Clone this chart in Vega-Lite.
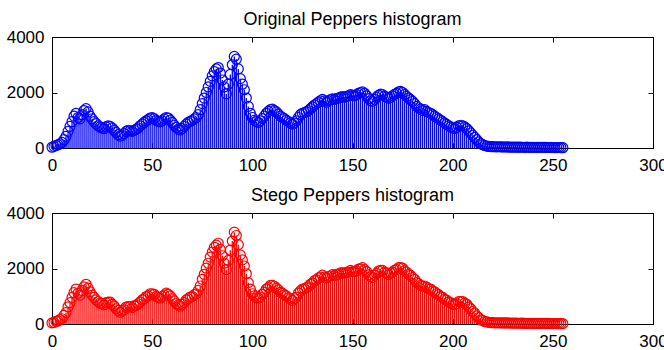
{
"$schema": "https://vega.github.io/schema/vega-lite/v6.json",
"padding": {"left": 5, "top": 10, "right": 0, "bottom": 5},
"background": "white",
"config": {
  "font": "Liberation Sans",
  "view": {"stroke": "black", "strokeWidth": 1},
  "axis": {"grid": false, "labelColor": "black", "labelFontSize": 17, "labelFont": "Liberation Sans", "tickColor": "black", "domainColor": "black", "tickSize": -5, "title": null, "labelFlush": false, "labelOverlap": false, "format": "d"},
  "title": {"font": "Liberation Sans", "fontSize": 18, "fontWeight": "normal", "color": "black", "anchor": "middle", "baseline": "alphabetic", "offset": -1}
},
"spacing": 12,
"data": {"values": [
{"x":0,"orig":30,"stego":40},{"x":1,"orig":60,"stego":55},{"x":2,"orig":90,"stego":100},{"x":3,"orig":120,"stego":110},{"x":4,"orig":150,"stego":160},{"x":5,"orig":200,"stego":190},{"x":6,"orig":300,"stego":310},{"x":7,"orig":420,"stego":410},{"x":8,"orig":600,"stego":620},{"x":9,"orig":780,"stego":770},
{"x":10,"orig":950,"stego":960},{"x":11,"orig":1150,"stego":1130},{"x":12,"orig":1250,"stego":1260},{"x":13,"orig":1100,"stego":1110},{"x":14,"orig":1050,"stego":1040},{"x":15,"orig":1200,"stego":1210},{"x":16,"orig":1350,"stego":1340},{"x":17,"orig":1420,"stego":1430},{"x":18,"orig":1300,"stego":1290},{"x":19,"orig":1150,"stego":1160},
{"x":20,"orig":1050,"stego":1040},{"x":21,"orig":950,"stego":960},{"x":22,"orig":880,"stego":870},{"x":23,"orig":800,"stego":810},{"x":24,"orig":760,"stego":750},{"x":25,"orig":720,"stego":730},{"x":26,"orig":700,"stego":690},{"x":27,"orig":760,"stego":770},{"x":28,"orig":800,"stego":790},{"x":29,"orig":780,"stego":790},
{"x":30,"orig":720,"stego":710},{"x":31,"orig":640,"stego":650},{"x":32,"orig":560,"stego":550},{"x":33,"orig":480,"stego":490},{"x":34,"orig":430,"stego":420},{"x":35,"orig":460,"stego":470},{"x":36,"orig":520,"stego":510},{"x":37,"orig":600,"stego":610},{"x":38,"orig":640,"stego":630},{"x":39,"orig":620,"stego":630},
{"x":40,"orig":600,"stego":590},{"x":41,"orig":640,"stego":650},{"x":42,"orig":680,"stego":670},{"x":43,"orig":720,"stego":730},{"x":44,"orig":800,"stego":790},{"x":45,"orig":860,"stego":870},{"x":46,"orig":920,"stego":910},{"x":47,"orig":980,"stego":990},{"x":48,"orig":1020,"stego":1010},{"x":49,"orig":1080,"stego":1090},
{"x":50,"orig":1100,"stego":1090},{"x":51,"orig":1060,"stego":1070},{"x":52,"orig":1000,"stego":990},{"x":53,"orig":960,"stego":970},{"x":54,"orig":940,"stego":930},{"x":55,"orig":980,"stego":990},{"x":56,"orig":1050,"stego":1040},{"x":57,"orig":1100,"stego":1110},{"x":58,"orig":1080,"stego":1070},{"x":59,"orig":1000,"stego":1010},
{"x":60,"orig":920,"stego":910},{"x":61,"orig":820,"stego":830},{"x":62,"orig":740,"stego":730},{"x":63,"orig":680,"stego":690},{"x":64,"orig":650,"stego":640},{"x":65,"orig":700,"stego":710},{"x":66,"orig":780,"stego":770},{"x":67,"orig":860,"stego":870},{"x":68,"orig":920,"stego":910},{"x":69,"orig":960,"stego":970},
{"x":70,"orig":1000,"stego":990},{"x":71,"orig":1050,"stego":1060},{"x":72,"orig":1100,"stego":1090},{"x":73,"orig":1200,"stego":1210},{"x":74,"orig":1380,"stego":1370},{"x":75,"orig":1600,"stego":1610},{"x":76,"orig":1800,"stego":1790},{"x":77,"orig":2000,"stego":2010},{"x":78,"orig":2200,"stego":2190},{"x":79,"orig":2400,"stego":2410},
{"x":80,"orig":2600,"stego":2590},{"x":81,"orig":2750,"stego":2760},{"x":82,"orig":2850,"stego":2840},{"x":83,"orig":2900,"stego":2910},{"x":84,"orig":2700,"stego":2690},{"x":85,"orig":2450,"stego":2460},{"x":86,"orig":2200,"stego":2190},{"x":87,"orig":1950,"stego":1960},{"x":88,"orig":2300,"stego":2290},{"x":89,"orig":2650,"stego":2660},
{"x":90,"orig":3000,"stego":2990},{"x":91,"orig":3300,"stego":3310},{"x":92,"orig":3200,"stego":3190},{"x":93,"orig":2850,"stego":2860},{"x":94,"orig":2500,"stego":2490},{"x":95,"orig":2300,"stego":2310},{"x":96,"orig":2100,"stego":2090},{"x":97,"orig":1800,"stego":1810},{"x":98,"orig":1500,"stego":1490},{"x":99,"orig":1250,"stego":1260},
{"x":100,"orig":1100,"stego":1090},{"x":101,"orig":1000,"stego":1010},{"x":102,"orig":950,"stego":940},{"x":103,"orig":920,"stego":930},{"x":104,"orig":980,"stego":970},{"x":105,"orig":1060,"stego":1070},{"x":106,"orig":1150,"stego":1140},{"x":107,"orig":1250,"stego":1260},{"x":108,"orig":1320,"stego":1310},{"x":109,"orig":1380,"stego":1390},
{"x":110,"orig":1400,"stego":1390},{"x":111,"orig":1350,"stego":1360},{"x":112,"orig":1300,"stego":1290},{"x":113,"orig":1220,"stego":1230},{"x":114,"orig":1150,"stego":1140},{"x":115,"orig":1100,"stego":1110},{"x":116,"orig":1060,"stego":1050},{"x":117,"orig":1000,"stego":1010},{"x":118,"orig":950,"stego":940},{"x":119,"orig":900,"stego":910},
{"x":120,"orig":860,"stego":850},{"x":121,"orig":900,"stego":910},{"x":122,"orig":980,"stego":970},{"x":123,"orig":1100,"stego":1110},{"x":124,"orig":1200,"stego":1190},{"x":125,"orig":1250,"stego":1260},{"x":126,"orig":1280,"stego":1270},{"x":127,"orig":1300,"stego":1310},{"x":128,"orig":1350,"stego":1340},{"x":129,"orig":1420,"stego":1430},
{"x":130,"orig":1480,"stego":1470},{"x":131,"orig":1550,"stego":1560},{"x":132,"orig":1600,"stego":1590},{"x":133,"orig":1650,"stego":1660},{"x":134,"orig":1700,"stego":1690},{"x":135,"orig":1750,"stego":1760},{"x":136,"orig":1700,"stego":1690},{"x":137,"orig":1650,"stego":1660},{"x":138,"orig":1700,"stego":1710},{"x":139,"orig":1740,"stego":1730},
{"x":140,"orig":1770,"stego":1780},{"x":141,"orig":1750,"stego":1740},{"x":142,"orig":1780,"stego":1790},{"x":143,"orig":1800,"stego":1790},{"x":144,"orig":1830,"stego":1840},{"x":145,"orig":1850,"stego":1840},{"x":146,"orig":1830,"stego":1840},{"x":147,"orig":1850,"stego":1860},{"x":148,"orig":1880,"stego":1870},{"x":149,"orig":1920,"stego":1930},
{"x":150,"orig":1900,"stego":1890},{"x":151,"orig":1880,"stego":1890},{"x":152,"orig":1920,"stego":1910},{"x":153,"orig":1970,"stego":1980},{"x":154,"orig":2000,"stego":1990},{"x":155,"orig":2020,"stego":2030},{"x":156,"orig":1970,"stego":1960},{"x":157,"orig":1880,"stego":1890},{"x":158,"orig":1780,"stego":1770},{"x":159,"orig":1700,"stego":1710},
{"x":160,"orig":1680,"stego":1670},{"x":161,"orig":1750,"stego":1760},{"x":162,"orig":1830,"stego":1820},{"x":163,"orig":1900,"stego":1910},{"x":164,"orig":1940,"stego":1930},{"x":165,"orig":1920,"stego":1930},{"x":166,"orig":1870,"stego":1860},{"x":167,"orig":1830,"stego":1840},{"x":168,"orig":1790,"stego":1780},{"x":169,"orig":1820,"stego":1830},
{"x":170,"orig":1880,"stego":1870},{"x":171,"orig":1930,"stego":1940},{"x":172,"orig":1970,"stego":1960},{"x":173,"orig":2020,"stego":2030},{"x":174,"orig":2040,"stego":2030},{"x":175,"orig":2000,"stego":2010},{"x":176,"orig":1930,"stego":1920},{"x":177,"orig":1860,"stego":1870},{"x":178,"orig":1800,"stego":1790},{"x":179,"orig":1740,"stego":1750},
{"x":180,"orig":1680,"stego":1670},{"x":181,"orig":1600,"stego":1610},{"x":182,"orig":1500,"stego":1490},{"x":183,"orig":1450,"stego":1460},{"x":184,"orig":1400,"stego":1390},{"x":185,"orig":1350,"stego":1360},{"x":186,"orig":1380,"stego":1370},{"x":187,"orig":1320,"stego":1330},{"x":188,"orig":1280,"stego":1270},{"x":189,"orig":1250,"stego":1260},
{"x":190,"orig":1200,"stego":1190},{"x":191,"orig":1150,"stego":1160},{"x":192,"orig":1100,"stego":1090},{"x":193,"orig":1050,"stego":1060},{"x":194,"orig":1000,"stego":990},{"x":195,"orig":950,"stego":960},{"x":196,"orig":900,"stego":890},{"x":197,"orig":850,"stego":860},{"x":198,"orig":800,"stego":790},{"x":199,"orig":760,"stego":770},
{"x":200,"orig":720,"stego":710},{"x":201,"orig":700,"stego":710},{"x":202,"orig":740,"stego":730},{"x":203,"orig":800,"stego":810},{"x":204,"orig":820,"stego":810},{"x":205,"orig":800,"stego":810},{"x":206,"orig":760,"stego":750},{"x":207,"orig":700,"stego":710},{"x":208,"orig":620,"stego":610},{"x":209,"orig":540,"stego":550},
{"x":210,"orig":460,"stego":450},{"x":211,"orig":380,"stego":390},{"x":212,"orig":300,"stego":290},{"x":213,"orig":220,"stego":230},{"x":214,"orig":160,"stego":150},{"x":215,"orig":120,"stego":130},{"x":216,"orig":90,"stego":85},{"x":217,"orig":70,"stego":75},{"x":218,"orig":55,"stego":60},{"x":219,"orig":50,"stego":48},
{"x":220,"orig":48,"stego":50},{"x":221,"orig":45,"stego":43},{"x":222,"orig":42,"stego":45},{"x":223,"orig":45,"stego":42},{"x":224,"orig":40,"stego":41},{"x":225,"orig":38,"stego":37},{"x":226,"orig":36,"stego":39},{"x":227,"orig":40,"stego":38},{"x":228,"orig":35,"stego":36},{"x":229,"orig":33,"stego":32},
{"x":230,"orig":30,"stego":33},{"x":231,"orig":32,"stego":30},{"x":232,"orig":30,"stego":31},{"x":233,"orig":28,"stego":27},{"x":234,"orig":30,"stego":29},{"x":235,"orig":27,"stego":28},{"x":236,"orig":25,"stego":26},{"x":237,"orig":28,"stego":25},{"x":238,"orig":26,"stego":27},{"x":239,"orig":24,"stego":23},
{"x":240,"orig":25,"stego":26},{"x":241,"orig":23,"stego":22},{"x":242,"orig":22,"stego":24},{"x":243,"orig":24,"stego":21},{"x":244,"orig":22,"stego":23},{"x":245,"orig":20,"stego":21},{"x":246,"orig":22,"stego":20},{"x":247,"orig":20,"stego":19},{"x":248,"orig":18,"stego":20},{"x":249,"orig":20,"stego":18},
{"x":250,"orig":18,"stego":17},{"x":251,"orig":17,"stego":18},{"x":252,"orig":16,"stego":15},{"x":253,"orig":18,"stego":17},{"x":254,"orig":15,"stego":16},{"x":255,"orig":12,"stego":13}
]},
"vconcat": [
  {
    "title": {"text": "Original Peppers histogram"},
    "width": 601, "height": 111,
    "layer": [
      {"mark": {"type": "rule", "color": "#0000ff", "strokeWidth": 1.3},
       "encoding": {
         "x": {"field": "x", "type": "quantitative", "scale": {"domain": [0, 300], "nice": false}, "axis": {"orient": "bottom", "values": [0,50,100,150,200,250,300], "labelPadding": 14}},
         "y": {"field": "orig", "type": "quantitative", "scale": {"domain": [0, 4000], "nice": false}, "axis": {"orient": "left", "values": [0,2000,4000], "labelPadding": 13}},
         "y2": {"datum": 0}
       }},
      {"mark": {"type": "point", "shape": "circle", "filled": false, "color": "#0000ff", "size": 100, "strokeWidth": 1.2, "opacity": 1},
       "encoding": {
         "x": {"field": "x", "type": "quantitative", "axis": {"orient": "top", "values": [0,50,100,150,200,250,300], "labels": false}},
         "y": {"field": "orig", "type": "quantitative", "axis": {"orient": "right", "values": [0,2000,4000], "labels": false}}
       }}
    ]
  },
  {
    "title": {"text": "Stego Peppers histogram"},
    "width": 601, "height": 111,
    "layer": [
      {"mark": {"type": "rule", "color": "#ff0000", "strokeWidth": 1.3},
       "encoding": {
         "x": {"field": "x", "type": "quantitative", "scale": {"domain": [0, 300], "nice": false}, "axis": {"orient": "bottom", "values": [0,50,100,150,200,250,300], "labelPadding": 14}},
         "y": {"field": "stego", "type": "quantitative", "scale": {"domain": [0, 4000], "nice": false}, "axis": {"orient": "left", "values": [0,2000,4000], "labelPadding": 13}},
         "y2": {"datum": 0}
       }},
      {"mark": {"type": "point", "shape": "circle", "filled": false, "color": "#ff0000", "size": 100, "strokeWidth": 1.2, "opacity": 1},
       "encoding": {
         "x": {"field": "x", "type": "quantitative", "axis": {"orient": "top", "values": [0,50,100,150,200,250,300], "labels": false}},
         "y": {"field": "stego", "type": "quantitative", "axis": {"orient": "right", "values": [0,2000,4000], "labels": false}}
       }}
    ]
  }
]
}
